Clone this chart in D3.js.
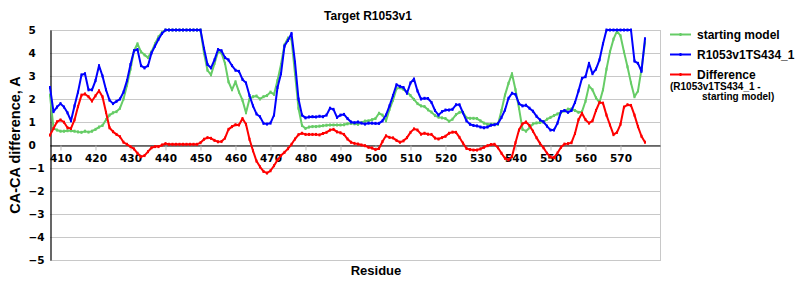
<!DOCTYPE html>
<html><head><meta charset="utf-8">
<script src="https://cdn.jsdelivr.net/npm/d3@7"></script>
<style>
body{margin:0;background:#fff;}
svg{display:block;}
.tick-lab{font-family:"DejaVu Sans",Verdana,sans-serif;font-weight:bold;font-size:10.5px;fill:#000;}
.ttl{font-family:"Liberation Sans",Arial,sans-serif;font-weight:bold;fill:#000;}
</style>
</head><body>
<svg id="chart" width="800" height="300"></svg>
<script>
const title = "Target R1053v1";
const xTitle = "Residue";
const yTitle = "CA-CA difference, A";
const startResidue = 407;
const xTicks = [410,420,430,440,450,460,470,480,490,500,510,520,530,540,550,560,570];
const yTicks = [5,4,3,2,1,0,-1,-2,-3,-4,-5];
const seriesNames = ["starting model","R1053v1TS434_1","Difference"];
const seriesColors = ["#66cc66","#0000ff","#ff0000"];

// residues 407..577
const startingModel = [
2.17,0.72,0.65,0.6,0.6,0.62,0.62,0.6,0.57,0.55,
0.6,0.56,0.6,0.68,0.78,0.85,1.1,1.3,1.4,1.45,
1.6,2.0,2.6,3.3,4.1,4.4,4.05,3.92,3.8,4.05,
4.4,4.7,4.9,5,5,5,5,5,5,5,
5,5,5,5,4.0,3.25,3.05,3.55,4.05,4.0,
3.55,2.75,2.4,2.75,2.3,1.95,1.4,2.0,2.1,2.13,
2.0,2.1,2.15,2.3,2.2,2.8,3.5,4.35,4.65,4.6,
3.1,1.6,0.85,0.72,0.78,0.8,0.8,0.82,0.84,0.86,
0.87,0.87,0.87,0.87,0.88,0.92,0.94,0.92,0.9,0.98,
1.04,1.05,1.1,1.15,1.38,1.3,1.05,1.55,1.95,2.45,
2.49,2.42,2.3,2.15,1.98,1.8,1.7,1.67,1.53,1.43,
1.28,1.21,1.18,1.15,1.03,1.12,1.32,1.42,1.42,1.18,
1.16,1.16,1.15,1.05,0.95,0.9,0.9,0.9,0.9,1.5,
2.17,2.68,3.1,2.4,1.6,0.68,0.6,0.75,0.92,0.96,
0.98,1.0,1.12,1.2,1.28,1.35,1.42,1.48,1.56,1.57,
1.5,1.42,1.45,1.9,2.57,2.4,2.05,1.85,2.4,3.3,
4.05,4.6,4.95,4.75,4.05,3.4,2.7,2.1,2.35,3.3,
4.45];
const targetModel = [
2.5,1.45,1.65,1.8,1.65,1.4,1.05,1.7,2.3,3.05,
3.1,2.4,2.4,2.8,3.45,3.0,2.4,1.95,1.8,1.9,
2.0,2.3,2.8,3.5,4.1,4.15,3.45,3.35,3.45,4.0,
4.3,4.6,4.85,5,5,5,5,5,5,5,
5,5,5,5,4.2,3.5,3.35,3.7,4.15,4.1,
3.8,3.7,3.45,3.25,3.2,2.85,2.7,2.15,1.7,1.35,
1.23,0.94,0.91,0.95,1.3,2.5,3.1,4.3,4.55,4.85,
3.6,2.0,1.3,1.18,1.22,1.23,1.22,1.25,1.23,1.3,
1.6,1.55,1.2,1.3,1.33,1.15,1.0,0.97,1.0,0.95,
0.91,0.95,0.95,0.94,0.94,1.05,1.3,1.7,2.15,2.62,
2.55,2.5,2.25,2.7,2.87,2.35,2.0,2.03,2.02,1.85,
1.5,1.3,1.45,1.52,1.52,1.55,1.75,1.75,1.4,1.05,
0.9,0.85,0.83,0.78,0.75,0.78,0.86,0.88,0.93,1.2,
1.52,2.03,2.25,2.2,1.8,1.7,1.73,1.6,1.47,1.25,
1.09,1.01,0.82,0.65,0.65,0.95,1.45,1.5,1.42,1.5,
1.85,2.35,2.9,2.97,3.55,3.1,3.3,3.7,4.4,5,
5,5,5,5,5,5,5,3.65,3.55,3.2,
4.62];
const difference = [
0.43,0.72,1.01,1.09,0.99,0.75,0.72,1.09,1.67,2.17,
2.22,2.1,1.91,2.14,2.36,2.1,1.42,0.75,0.58,0.46,
0.36,0.12,0.03,-0.07,-0.17,-0.36,-0.51,-0.46,-0.29,-0.12,
-0.07,-0.07,0,0.06,0.03,0.03,0.03,0.03,0.03,0.03,
0.03,0.03,0.03,0.1,0.25,0.32,0.29,0.2,0.14,0.15,
0.3,0.68,0.8,0.88,0.87,1.15,0.9,0.25,-0.25,-0.7,
-0.95,-1.15,-1.22,-1.12,-0.9,-0.65,-0.46,-0.32,-0.16,0.03,
0.26,0.45,0.51,0.46,0.46,0.46,0.46,0.44,0.5,0.55,
0.65,0.68,0.57,0.53,0.46,0.26,0.12,0.07,0.04,0.0,
-0.03,-0.1,-0.13,-0.2,-0.15,0.15,0.4,0.33,0.31,0.2,
0.12,0.18,0.32,0.55,0.7,0.65,0.47,0.51,0.47,0.46,
0.3,0.26,0.32,0.38,0.51,0.56,0.55,0.33,0.08,-0.15,
-0.2,-0.22,-0.22,-0.17,-0.1,-0.03,0.02,0.03,-0.12,-0.36,
-0.58,-0.65,-0.5,0.1,0.65,0.92,1.0,0.85,0.6,0.32,
0.07,-0.12,-0.36,-0.52,-0.55,-0.35,-0.1,0.04,0.06,0.1,
0.5,1.1,1.38,1.1,0.95,1.05,1.5,1.85,1.82,1.3,
0.87,0.45,0.55,0.9,1.65,1.75,1.72,1.3,0.8,0.38,
0.12];

const svg = d3.select("#chart");
const pLeft = 50, pRight = 660, pTop = 30, pBottom = 260;
const x = d3.scaleLinear().domain([407, 581.29]).range([pLeft, pRight]);
const y = d3.scaleLinear().domain([-5, 5]).range([pBottom, pTop]);

// gridlines
svg.append("g").selectAll("line").data(yTicks).join("line")
  .attr("x1", pLeft).attr("x2", pRight)
  .attr("y1", d => Math.round(y(d)) + 0.5).attr("y2", d => Math.round(y(d)) + 0.5)
  .attr("stroke", "#c8c8c8").attr("stroke-width", 1);
// right border
svg.append("line").attr("x1", pRight + 0.5).attr("x2", pRight + 0.5)
  .attr("y1", pTop).attr("y2", pBottom + 1).attr("stroke", "#c8c8c8");

// x axis at zero
const xAxis = d3.axisBottom(x).tickValues(xTicks).tickSize(5).tickSizeOuter(0).tickFormat(d3.format("d"));
const gx = svg.append("g").attr("transform", `translate(0,${Math.round(y(0)) + 0.5})`).call(xAxis);
gx.attr("font-size", null).attr("font-family", null);
gx.select(".domain").attr("stroke", "#000").attr("stroke-width", 1.2);
gx.selectAll(".tick line").attr("stroke", "#bbbbbb");
gx.selectAll(".tick text").attr("class", "tick-lab").attr("y", 9).attr("dy", "0.71em");

// y axis
const yAxis = d3.axisLeft(y).tickValues(yTicks).tickSize(0).tickSizeOuter(0)
  .tickFormat(d => d < 0 ? "\u2212" + Math.abs(d) : String(d));
const gy = svg.append("g").attr("transform", `translate(${pLeft + 0.5},0)`).call(yAxis);
gy.attr("font-size", null).attr("font-family", null);
gy.select(".domain").attr("stroke", "#000").attr("stroke-width", 1.2);
gy.selectAll(".tick text").attr("class", "tick-lab").attr("text-anchor", "start")
  .attr("x", 28 - pLeft).attr("dy", "0.36em");

// series
const residues = startingModel.map((_, i) => startResidue + i);
const all = [startingModel, targetModel, difference];
const line = d3.line().x((d, i) => x(residues[i])).y(d => y(d));
all.forEach((vals, k) => {
  const g = svg.append("g");
  g.append("path").datum(vals).attr("d", line).attr("fill", "none")
    .attr("stroke", seriesColors[k]).attr("stroke-width", 2).attr("stroke-linejoin", "round");
  g.selectAll("rect").data(vals).join("rect")
    .attr("x", (d, i) => x(residues[i]) - 1).attr("y", d => y(d) - 1.5)
    .attr("width", 2).attr("height", 3).attr("fill", seriesColors[k]);
});

// titles
svg.append("text").attr("class", "ttl").attr("x", 368).attr("y", 20)
  .attr("text-anchor", "middle").attr("font-size", 12).text(title);
svg.append("text").attr("class", "ttl").attr("x", 376).attr("y", 275)
  .attr("text-anchor", "middle").attr("font-size", 13).text(xTitle);
svg.append("text").attr("class", "ttl")
  .attr("transform", "translate(20,145) rotate(-90)")
  .attr("text-anchor", "middle").attr("font-size", 14.5).text(yTitle);

// legend
const legY = [34.5, 54.5, 74.5];
seriesNames.forEach((n, k) => {
  svg.append("line").attr("x1", 670).attr("x2", 691).attr("y1", legY[k]).attr("y2", legY[k])
    .attr("stroke", seriesColors[k]).attr("stroke-width", 2);
  svg.append("rect").attr("x", 679.5).attr("y", legY[k] - 1.5).attr("width", 2).attr("height", 3).attr("fill", seriesColors[k]);
  svg.append("text").attr("class", "ttl").attr("x", 697).attr("y", legY[k] + 4.5)
    .attr("font-size", 12).text(n);
});
svg.append("text").attr("class", "ttl").attr("x", 670).attr("y", 89.5).attr("font-size", 10).text("(R1053v1TS434_1 -");
svg.append("text").attr("class", "ttl").attr("x", 702).attr("y", 100).attr("font-size", 10).text("starting model)");
</script>
</body></html>
